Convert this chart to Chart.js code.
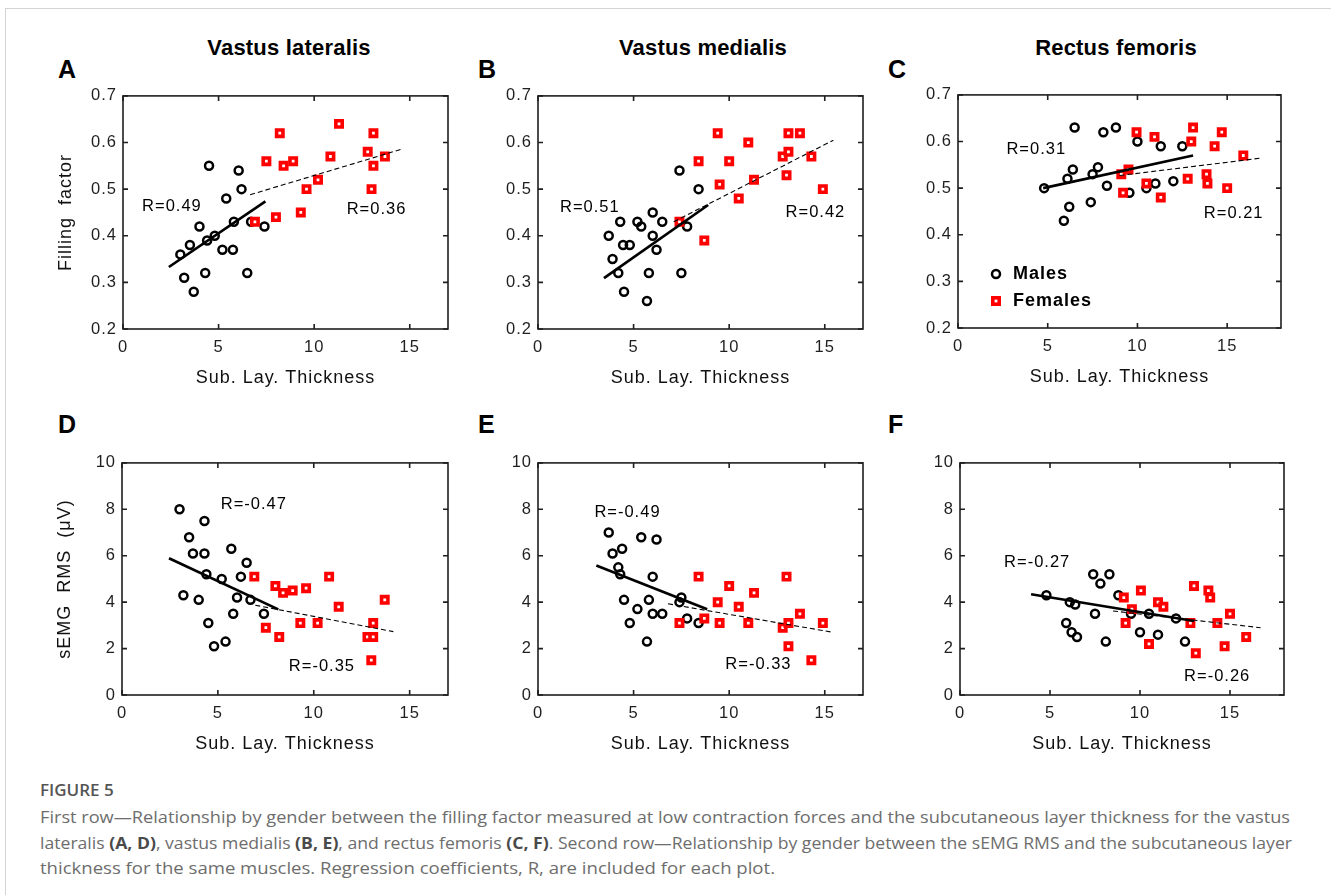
<!DOCTYPE html>
<html>
<head>
<meta charset="utf-8">
<script src="https://cdn.jsdelivr.net/npm/chart.js@4.4.1/dist/chart.umd.min.js"></script>
<style>
  body { margin: 0; background: #fff; }
  #fig { position: relative; width: 1331px; height: 895px; overflow: hidden; font-family: "Liberation Sans", Arial, sans-serif; }
  #frame { position: absolute; left: 5px; top: 8px; width: 1330px; height: 890px; border-top: 1px solid #d4d4d4; border-left: 1px solid #d4d4d4; }
  canvas { position: absolute; }
  .ttl { position: absolute; width: 300px; text-align: center; font-weight: bold; font-size: 22px; line-height: 22px; color: #000; letter-spacing: 0.2px; }
  .let { position: absolute; font-weight: bold; font-size: 25px; line-height: 25px; color: #000; }
  .cap { position: absolute; left: 40px; white-space: nowrap; font-family: "Open Sans", "Noto Sans", sans-serif; font-size: 16px; line-height: 26px; color: #6d6d6d; transform-origin: 0 50%; }
  .cap b { color: #4a4a4a; font-weight: 700; }
  #figno { font-weight: 600; color: #555; font-size: 17px; }
</style>
</head>
<body>
<div id="fig">
  <div id="frame"></div>

  <div class="ttl" style="left:139px; top:37px">Vastus lateralis</div>
  <div class="ttl" style="left:553px; top:37px">Vastus medialis</div>
  <div class="ttl" style="left:966px; top:37px">Rectus femoris</div>

  <div class="let" style="left:58px; top:57px">A</div>
  <div class="let" style="left:478px; top:57px">B</div>
  <div class="let" style="left:888px; top:57px">C</div>
  <div class="let" style="left:58px; top:412px">D</div>
  <div class="let" style="left:478px; top:412px">E</div>
  <div class="let" style="left:888px; top:412px">F</div>

  <canvas id="panelA" width="407" height="311" style="left:53px; top:80px"></canvas>
  <canvas id="panelB" width="407" height="311" style="left:468px; top:80px"></canvas>
  <canvas id="panelC" width="405" height="311" style="left:888px; top:79px"></canvas>
  <canvas id="panelD" width="408" height="310" style="left:52px; top:447px"></canvas>
  <canvas id="panelE" width="407" height="310" style="left:468px; top:447px"></canvas>
  <canvas id="panelF" width="406" height="310" style="left:890px; top:447px"></canvas>

  <div class="cap" id="figno" style="top:777px">FIGURE 5</div>
  <div class="cap" data-w="1250" style="top:804px">First row—Relationship by gender between the filling factor measured at low contraction forces and the subcutaneous layer thickness for the vastus</div>
  <div class="cap" data-w="1252" style="top:830px">lateralis <b>(A, D)</b>, vastus medialis <b>(B, E)</b>, and rectus femoris <b>(C, F)</b>. Second row—Relationship by gender between the sEMG RMS and the subcutaneous layer</div>
  <div class="cap" data-w="735" style="top:855px">thickness for the same muscles. Regression coefficients, R, are included for each plot.</div>
</div>

<script>
// tick labels
const xTicks = [0, 5, 10, 15]
const fillTicks = [0.2, 0.3, 0.4, 0.5, 0.6, 0.7]
const rmsTicks = [0, 2, 4, 6, 8, 10]

// A - vastus lateralis, filling factor
const aMaleX = [3.0, 3.2, 3.5, 3.7, 4.0, 4.3, 4.4, 4.5, 4.8, 5.2, 5.4, 5.75, 5.8, 6.05, 6.2, 6.5, 6.7, 7.4]
const aMaleY = [0.36, 0.31, 0.38, 0.28, 0.42, 0.32, 0.39, 0.55, 0.40, 0.37, 0.48, 0.37, 0.43, 0.54, 0.50, 0.32, 0.43, 0.42]
const aFemX = [6.9, 7.5, 8.0, 8.2, 8.4, 8.9, 9.3, 9.6, 10.2, 10.85, 11.3, 12.8, 13.1, 13.1, 13.0, 13.7]
const aFemY = [0.43, 0.56, 0.44, 0.62, 0.55, 0.56, 0.45, 0.50, 0.52, 0.57, 0.64, 0.58, 0.62, 0.55, 0.50, 0.57]
const aMaleFitX = [2.4, 7.45], aMaleFitY = [0.333, 0.474]
const aFemFitX = [6.65, 14.6], aFemFitY = [0.488, 0.586]
const aR = ['R=0.49', 'R=0.36']

// B - vastus medialis, filling factor
const bMaleX = [3.7, 3.9, 4.2, 4.3, 4.45, 4.5, 4.8, 5.2, 5.4, 5.7, 5.8, 6.0, 6.0, 6.2, 6.5, 7.4, 7.5, 7.8, 8.4]
const bMaleY = [0.40, 0.35, 0.32, 0.43, 0.38, 0.28, 0.38, 0.43, 0.42, 0.26, 0.32, 0.45, 0.40, 0.37, 0.43, 0.54, 0.32, 0.42, 0.50]
const bFemX = [7.4, 8.4, 8.7, 9.4, 9.5, 10.0, 10.5, 11.0, 11.3, 12.8, 13.0, 13.1, 13.1, 13.7, 14.3, 14.9]
const bFemY = [0.43, 0.56, 0.39, 0.62, 0.51, 0.56, 0.48, 0.60, 0.52, 0.57, 0.53, 0.58, 0.62, 0.62, 0.57, 0.50]
const bMaleFitX = [3.45, 8.9], bMaleFitY = [0.309, 0.466]
const bFemFitX = [7.1, 15.45], bFemFitY = [0.43, 0.605]
const bR = ['R=0.51', 'R=0.42']

// C - rectus femoris, filling factor
const cMaleX = [4.8, 5.9, 6.1, 6.2, 6.4, 6.5, 7.4, 7.5, 7.8, 8.1, 8.3, 8.8, 9.55, 10.0, 10.5, 11.0, 11.3, 12.0, 12.5]
const cMaleY = [0.50, 0.43, 0.52, 0.46, 0.54, 0.63, 0.47, 0.53, 0.545, 0.62, 0.505, 0.63, 0.49, 0.60, 0.50, 0.51, 0.59, 0.515, 0.59]
const cFemX = [9.1, 9.2, 9.5, 9.95, 10.5, 10.95, 11.3, 12.8, 13.0, 13.1, 13.85, 13.9, 14.3, 14.7, 15.0, 15.9]
const cFemY = [0.53, 0.49, 0.54, 0.62, 0.51, 0.61, 0.48, 0.52, 0.60, 0.63, 0.53, 0.51, 0.59, 0.62, 0.50, 0.57]
const cMaleFitX = [4.75, 13.1], cMaleFitY = [0.50, 0.57]
const cFemFitX = [9.0, 16.8], cFemFitY = [0.527, 0.564]
const cR = ['R=0.31', 'R=0.21']

// D - vastus lateralis, sEMG RMS
const dMaleX = [3.0, 3.2, 3.5, 3.7, 4.0, 4.3, 4.3, 4.4, 4.5, 4.8, 5.2, 5.4, 5.7, 5.8, 6.0, 6.2, 6.5, 6.7, 7.4]
const dMaleY = [8.0, 4.3, 6.8, 6.1, 4.1, 7.5, 6.1, 5.2, 3.1, 2.1, 5.0, 2.3, 6.3, 3.5, 4.2, 5.1, 5.7, 4.1, 3.5]
const dFemX = [6.9, 7.5, 8.0, 8.2, 8.4, 8.9, 9.3, 9.6, 10.2, 10.8, 11.3, 12.8, 13.1, 13.1, 13.0, 13.7]
const dFemY = [5.1, 2.9, 4.7, 2.5, 4.4, 4.5, 3.1, 4.6, 3.1, 5.1, 3.8, 2.5, 3.1, 2.5, 1.5, 4.1]
const dMaleFitX = [2.45, 8.15], dMaleFitY = [5.89, 3.69]
const dFemFitX = [6.95, 14.15], dFemFitY = [3.87, 2.73]
const dR = ['R=-0.47', 'R=-0.35']

// E - vastus medialis, sEMG RMS
const eMaleX = [3.7, 3.9, 4.2, 4.3, 4.4, 4.5, 4.8, 5.2, 5.4, 5.7, 5.8, 6.0, 6.0, 6.2, 6.5, 7.4, 7.5, 7.8, 8.4]
const eMaleY = [7.0, 6.1, 5.5, 5.2, 6.3, 4.1, 3.1, 3.7, 6.8, 2.3, 4.1, 5.1, 3.5, 6.7, 3.5, 4.0, 4.2, 3.3, 3.1]
const eFemX = [7.4, 8.4, 8.7, 9.4, 9.5, 10.0, 10.5, 11.0, 11.3, 12.8, 13.0, 13.1, 13.1, 13.7, 14.3, 14.9]
const eFemY = [3.1, 5.1, 3.3, 4.0, 3.1, 4.7, 3.8, 3.1, 4.4, 2.9, 5.1, 3.1, 2.1, 3.5, 1.5, 3.1]
const eMaleFitX = [3.05, 8.85], eMaleFitY = [5.58, 3.69]
const eFemFitX = [6.8, 15.3], eFemFitY = [3.93, 2.72]
const eR = ['R=-0.49', 'R=-0.33']

// F - rectus femoris, sEMG RMS
const fMaleX = [4.8, 5.9, 6.1, 6.2, 6.4, 6.5, 7.4, 7.5, 7.8, 8.1, 8.3, 8.8, 9.5, 10.0, 10.5, 11.0, 12.0, 12.5]
const fMaleY = [4.3, 3.1, 4.0, 2.7, 3.9, 2.5, 5.2, 3.5, 4.8, 2.3, 5.2, 4.3, 3.5, 2.7, 3.5, 2.6, 3.3, 2.3]
const fFemX = [9.1, 9.2, 9.55, 10.05, 10.5, 11.0, 11.3, 12.8, 13.0, 13.1, 13.8, 13.9, 14.3, 14.7, 15.0, 15.9]
const fFemY = [4.2, 3.1, 3.7, 4.5, 2.2, 4.0, 3.8, 3.1, 4.7, 1.8, 4.5, 4.2, 3.1, 2.1, 3.5, 2.5]
const fMaleFitX = [3.95, 13.0], fMaleFitY = [4.34, 3.19]
const fFemFitX = [8.5, 16.7], fFemFitY = [3.62, 2.9]
const fR = ['R=-0.27', 'R=-0.26']

const FONT = '"Liberation Sans", Arial, sans-serif'
const INK = '#1f1f1f'

const pts = function (xs, ys) {
    return xs.map((v, i) => ({ x: v, y: ys[i] }))
}

// frame with inward ticks on all sides, R notes, legend
const makeBox = function (notes, legend) {
    return {
        id: 'box',
        beforeDraw(chart) {
            if ('letterSpacing' in chart.ctx) chart.ctx.letterSpacing = '1px'
        },
        afterDatasetsDraw(chart) {
            const ctx = chart.ctx
            const a = chart.chartArea
            const x = chart.scales.x, y = chart.scales.y
            ctx.save()
            ctx.strokeStyle = INK
            ctx.lineWidth = 1.6
            ctx.strokeRect(a.left, a.top, a.right - a.left, a.bottom - a.top)
            ctx.beginPath()
            x.ticks.forEach(t => {
                const px = x.getPixelForValue(t.value)
                ctx.moveTo(px, a.bottom); ctx.lineTo(px, a.bottom - 5)
                ctx.moveTo(px, a.top); ctx.lineTo(px, a.top + 5)
            })
            y.ticks.forEach(t => {
                const py = y.getPixelForValue(t.value)
                ctx.moveTo(a.left, py); ctx.lineTo(a.left + 5, py)
                ctx.moveTo(a.right, py); ctx.lineTo(a.right - 5, py)
            })
            ctx.stroke()

            ctx.fillStyle = '#000'
            ctx.font = '16.5px ' + FONT
            ctx.textAlign = 'left'
            ctx.textBaseline = 'middle'
            notes.forEach(n => {
                ctx.fillText(n.text, x.getPixelForValue(n.at[0]), y.getPixelForValue(n.at[1]))
            })

            if (legend) {
                const lx = a.left + 38
                const y1 = a.bottom - 54, y2 = a.bottom - 27
                ctx.lineWidth = 2.5
                ctx.strokeStyle = '#000'
                ctx.beginPath()
                ctx.arc(lx, y1, 4, 0, Math.PI * 2)
                ctx.stroke()
                ctx.lineWidth = 3.6
                ctx.strokeStyle = '#ff0000'
                ctx.fillStyle = '#fff'
                ctx.fillRect(lx - 3.2, y2 - 3.2, 6.4, 6.4)
                ctx.strokeRect(lx - 3.2, y2 - 3.2, 6.4, 6.4)
                ctx.fillStyle = '#000'
                ctx.font = 'bold 18px ' + FONT
                ctx.fillText(legend[0], lx + 17, y1)
                ctx.fillText(legend[1], lx + 17, y2)
            }
            ctx.restore()
        }
    }
}

const makePanel = function (id, p) {
    return new Chart(document.getElementById(id), {
        type: 'scatter',
        data: {
            datasets: [
                {
                    label: 'Males', data: pts(p.maleX, p.maleY), order: 4,
                    pointStyle: 'circle', pointRadius: 4, pointBorderWidth: 2.5,
                    pointBorderColor: '#000', pointBackgroundColor: 'rgba(0,0,0,0)'
                },
                {
                    label: 'Females', data: pts(p.femX, p.femY), order: 3,
                    pointStyle: 'rect', pointRadius: 4.5, pointBorderWidth: 3.6,
                    pointBorderColor: '#ff0000', pointBackgroundColor: '#fff'
                },
                {
                    label: 'Males fit', data: pts(p.maleFitX, p.maleFitY), order: 1,
                    showLine: true, pointRadius: 0, borderColor: '#000', borderWidth: 2.7
                },
                {
                    label: 'Females fit', data: pts(p.femFitX, p.femFitY), order: 2,
                    showLine: true, pointRadius: 0, borderColor: '#000', borderWidth: 1.1,
                    borderDash: [5, 3]
                }
            ]
        },
        options: {
            responsive: false,
            animation: false,
            events: [],
            layout: { padding: { left: 0, top: 12, right: 12, bottom: 0 } },
            plugins: { legend: { display: false }, tooltip: { enabled: false } },
            scales: {
                x: {
                    type: 'linear', min: 0, max: p.xMax,
                    grid: { display: false, drawTicks: false },
                    border: { display: false },
                    afterBuildTicks: s => { s.ticks = xTicks.map(v => ({ value: v })) },
                    afterFit: s => { s.height = 62 },
                    ticks: { color: INK, font: { size: 16.5, family: FONT }, padding: 9, maxRotation: 0, autoSkip: false },
                    title: { display: true, text: 'Sub. Lay. Thickness', color: '#111', font: { size: 18, family: FONT }, padding: { top: 0, bottom: 2 } }
                },
                y: {
                    type: 'linear', min: p.yTicks[0], max: p.yTicks[p.yTicks.length - 1],
                    grid: { display: false, drawTicks: false },
                    border: { display: false },
                    afterBuildTicks: s => { s.ticks = p.yTicks.map(v => ({ value: v })) },
                    afterFit: s => { s.width = 70 },
                    ticks: { color: INK, font: { size: 16.5, family: FONT }, padding: 6, autoSkip: false, callback: p.yFmt },
                    title: { display: !!p.yTitle, text: p.yTitle || '', color: '#111', font: { size: 18, family: FONT }, padding: { top: 2, bottom: 0 } }
                }
            }
        },
        plugins: [makeBox(p.notes, p.legend)]
    })
}

const fmtFill = v => v.toFixed(1)
const fmtRms = v => String(v)

makePanel('panelA', {
    maleX: aMaleX, maleY: aMaleY, femX: aFemX, femY: aFemY,
    maleFitX: aMaleFitX, maleFitY: aMaleFitY, femFitX: aFemFitX, femFitY: aFemFitY,
    xMax: 17, yTicks: fillTicks, yFmt: fmtFill, yTitle: 'Filling  factor',
    notes: [{ text: aR[0], at: [1.0, 0.463] }, { text: aR[1], at: [11.7, 0.456] }]
})
makePanel('panelB', {
    maleX: bMaleX, maleY: bMaleY, femX: bFemX, femY: bFemY,
    maleFitX: bMaleFitX, maleFitY: bMaleFitY, femFitX: bFemFitX, femFitY: bFemFitY,
    xMax: 17, yTicks: fillTicks, yFmt: fmtFill,
    notes: [{ text: bR[0], at: [1.15, 0.461] }, { text: bR[1], at: [12.95, 0.45] }]
})
makePanel('panelC', {
    maleX: cMaleX, maleY: cMaleY, femX: cFemX, femY: cFemY,
    maleFitX: cMaleFitX, maleFitY: cMaleFitY, femFitX: cFemFitX, femFitY: cFemFitY,
    xMax: 18, yTicks: fillTicks, yFmt: fmtFill,
    notes: [{ text: cR[0], at: [2.7, 0.583] }, { text: cR[1], at: [13.7, 0.445] }],
    legend: ['Males', 'Females']
})
makePanel('panelD', {
    maleX: dMaleX, maleY: dMaleY, femX: dFemX, femY: dFemY,
    maleFitX: dMaleFitX, maleFitY: dMaleFitY, femFitX: dFemFitX, femFitY: dFemFitY,
    xMax: 17, yTicks: rmsTicks, yFmt: fmtRms, yTitle: 'sEMG  RMS  (μV)',
    notes: [{ text: dR[0], at: [5.15, 8.23] }, { text: dR[1], at: [8.7, 1.21] }]
})
makePanel('panelE', {
    maleX: eMaleX, maleY: eMaleY, femX: eFemX, femY: eFemY,
    maleFitX: eMaleFitX, maleFitY: eMaleFitY, femFitX: eFemFitX, femFitY: eFemFitY,
    xMax: 17, yTicks: rmsTicks, yFmt: fmtRms,
    notes: [{ text: eR[0], at: [2.95, 7.86] }, { text: eR[1], at: [9.8, 1.31] }]
})
makePanel('panelF', {
    maleX: fMaleX, maleY: fMaleY, femX: fFemX, femY: fFemY,
    maleFitX: fMaleFitX, maleFitY: fMaleFitY, femFitX: fFemFitX, femFitY: fFemFitY,
    xMax: 18, yTicks: rmsTicks, yFmt: fmtRms,
    notes: [{ text: fR[0], at: [2.45, 5.69] }, { text: fR[1], at: [12.45, 0.82] }]
})

// stretch caption lines to the measured widths
document.querySelectorAll('.cap[data-w]').forEach(el => {
    const w = el.getBoundingClientRect().width
    el.style.transform = 'scaleX(' + (Number(el.dataset.w) / w) + ')'
})
</script>
</body>
</html>
